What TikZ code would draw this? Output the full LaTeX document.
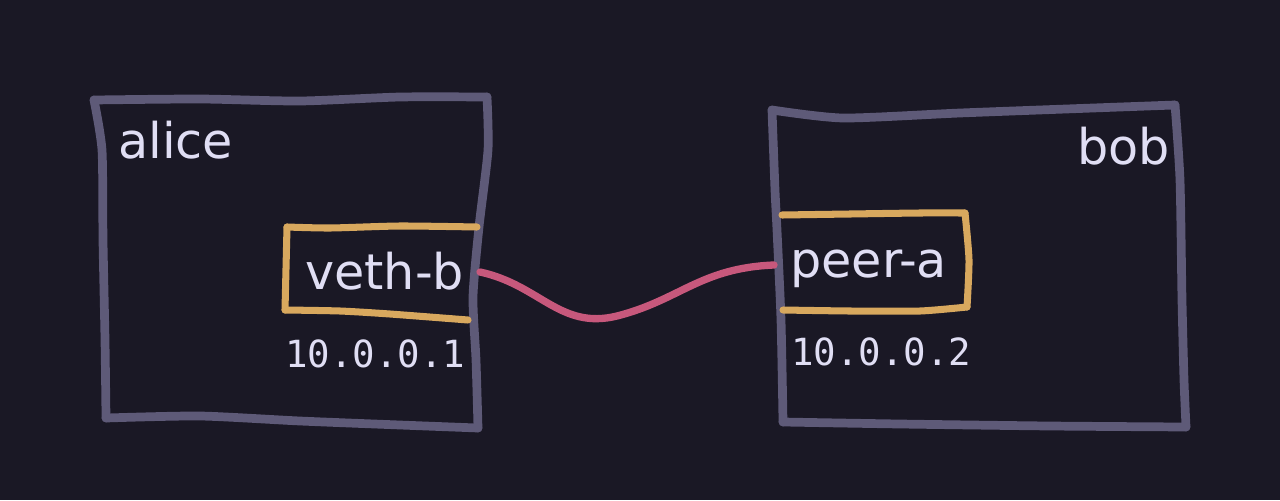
\documentclass[tikz,border=0pt]{standalone}
\usepackage{fontspec}
\setmainfont{DejaVu Sans}
\setmonofont{DejaVu Sans Mono}
\usepackage{tikz}
\usetikzlibrary{positioning}

\definecolor{base}{HTML}{1A1825}
\definecolor{muted}{HTML}{5E5A78}
\definecolor{gold}{HTML}{D8A85E}
\definecolor{love}{HTML}{C7587C}
\definecolor{txt}{HTML}{E0DEF4}

\begin{document}
\begin{tikzpicture}
[x=0.025cm, y=-0.025cm,
nsbox/.style={draw=muted, line width=6.2pt, line cap=round, line join=round},
ifbox/.style={draw=gold, line width=5pt, line cap=round, line join=round},
link/.style={draw=love, line width=5.2pt, line cap=round},
label/.style={text=txt, inner sep=0pt, font=\fontsize{35}{35}\selectfont},
addr/.style={text=txt, inner sep=0pt, font=\ttfamily\fontsize{26.6}{26.6}\selectfont},]

    \fill[base] (0,0) rectangle (1280,500);
    \useasboundingbox (0,0) rectangle (1280,500);

    % namespace alice
    \draw[nsbox] plot[smooth, tension=0.4] coordinates {(94,100) (200,99) (300,101) (400,97) (487,97)};
    \draw[nsbox] plot[smooth, tension=0.4] coordinates {(487,97) (488,150) (479,227) (473,297) (476,360) (478,428)};
    \draw[nsbox] plot[smooth, tension=0.4] coordinates {(478,428) (400,425) (300,421) (200,416) (106,418)};
    \draw[nsbox] plot[smooth, tension=0.4] coordinates {(106,418) (105,340) (103,240) (102,150) (94,100)};

    % namespace bob
    \draw[nsbox] plot[smooth, tension=0.4] coordinates {(772,110) (843,118) (960,113) (1093,108) (1175,105)};
    \draw[nsbox] plot[smooth, tension=0.4] coordinates {(1175,105) (1180,180) (1182,300) (1184,380) (1186,427)};
    \draw[nsbox] plot[smooth, tension=0.4] coordinates {(1186,427) (1050,426) (900,424) (783,422)};
    \draw[nsbox] plot[smooth, tension=0.4] coordinates {(783,422) (781,320) (777,230) (775,190) (772,110)};

    % interfaces
    \draw[ifbox] plot[smooth, tension=0.4] coordinates {(477,227) (400,226) (330,228) (287,227)};
    \draw[ifbox] (287,227) -- (285,310);
    \draw[ifbox] plot[smooth, tension=0.4] coordinates {(285,310) (340,311) (390,314) (468,320)};
    \draw[ifbox] plot[smooth, tension=0.4] coordinates {(782,215) (850,214) (920,213) (965,213)};
    \draw[ifbox] plot[smooth, tension=0.4] coordinates {(965,213) (969,260) (967,307)};
    \draw[ifbox] plot[smooth, tension=0.4] coordinates {(967,307) (920,311) (850,311) (783,310)};

    \node (alice) [label, anchor=base west] at (118,158) {alice};
    \node (bob) [label, anchor=base east] at (1170,164) {bob};
    \node (vethb) [label, anchor=base west] at (305,289) {veth-b};
    \node (peera) [label, anchor=base west] at (790,277) {peer-a};
    \node (ipa) [addr, anchor=base west] at (285,367) {10.0.0.1};
    \node (ipb) [addr, anchor=base west] at (791,365) {10.0.0.2};

    \coordinate (vethb-end) at (480,272);
    \coordinate (peera-end) at (774,265);
    \draw[link] (vethb-end) .. controls (540,285) and (560,330) .. (617,316) .. controls (680,300) and (700,268) .. (peera-end);
\end{tikzpicture}
\end{document}
